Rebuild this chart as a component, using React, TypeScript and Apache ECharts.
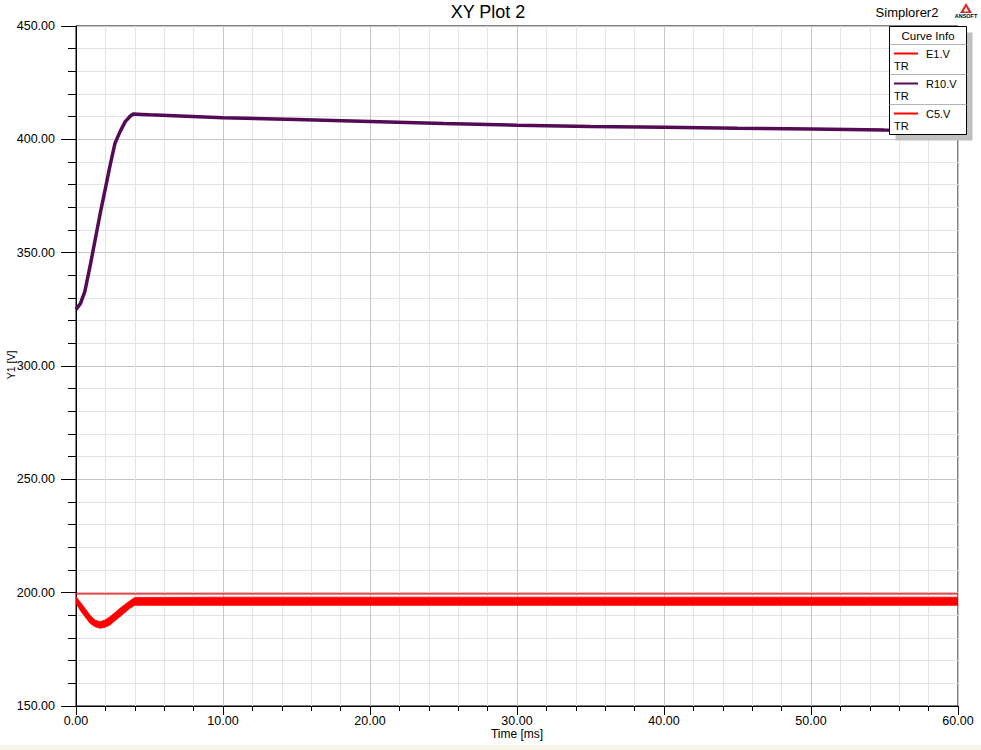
import React, { useEffect, useRef } from "react";
import * as echarts from "echarts";

// ---------- data ----------
const titleText = "XY Plot 2";
const projectText = "Simplorer2";
const xAxisName = "Time [ms]";
const yAxisName = "Y1 [V]";
const legendTitle = "Curve Info";
const seriesNames = ["E1.V", "R10.V", "C5.V"];
const seriesSub = ["TR", "TR", "TR"];

const e1Time = [0, 60];
const e1Values = [199.5, 199.5];

const r10Time = [0, 0.3, 0.6, 0.95, 1.3, 1.65, 2.0, 2.3, 2.65, 3.0, 3.35, 3.7, 3.9, 4.5, 5, 10, 15, 20, 25, 30, 35, 40, 45, 50, 55, 60];
const r10Values = [325.0, 327.5, 332.8, 343.8, 355.6, 367.4, 378.4, 388.0, 398.2, 403.4, 407.8, 410.3, 411.2, 411.0, 410.8, 409.5, 408.7, 407.9, 407.0, 406.2, 405.7, 405.3, 404.9, 404.6, 404.1, 403.8];

const c5Time = [0, 0.27, 0.61, 0.95, 1.29, 1.63, 1.97, 2.31, 2.65, 2.99, 3.33, 3.67, 4.0, 10, 20, 30, 40, 50, 60];
const c5Upper = [198.2, 196.0, 193.1, 190.1, 187.9, 187.2, 187.9, 189.4, 191.2, 193.1, 194.8, 196.4, 197.9, 198.0, 198.0, 198.0, 198.0, 198.0, 198.0];
const c5Lower = [195.3, 192.4, 189.4, 186.5, 185.0, 184.3, 184.7, 185.7, 187.6, 189.4, 191.2, 193.1, 194.4, 194.4, 194.4, 194.4, 194.4, 194.4, 194.4];

const colors = ["#ff0000", "#550a55", "#ff0000"];

const FONT = "Liberation Sans, Arial, sans-serif";

export default function App() {
  const ref = useRef<HTMLDivElement>(null);

  useEffect(() => {
    if (!ref.current) return;
    const chart = echarts.init(ref.current, undefined, { renderer: "svg" });

    const zip = (t: number[], v: number[]) => t.map((x, i) => [x, v[i]]);

    // legend graphic
    const lx = 889.5;
    const ly = 26.5;
    const lw = 77;
    const lh = 108;
    const legendChildren: any[] = [
      { type: "rect", shape: { x: lx + 6, y: ly + 6, width: lw, height: lh }, style: { fill: "#c0c0c0" }, z: 100 },
      { type: "rect", shape: { x: lx, y: ly, width: lw, height: lh }, style: { fill: "#ffffff", stroke: "#000000", lineWidth: 1 }, z: 101 },
      { type: "text", x: lx + lw / 2, y: 36, style: { text: legendTitle, fill: "#000", font: `11.5px ${FONT}`, align: "center", verticalAlign: "middle" }, z: 102 },
    ];
    const sepYs = [44.5, 74.5, 104.5];
    sepYs.forEach((sy) => {
      legendChildren.push({ type: "line", shape: { x1: lx, y1: sy, x2: lx + lw, y2: sy }, style: { stroke: "#b4b4b4", lineWidth: 1 }, z: 102 });
    });
    seriesNames.forEach((name, i) => {
      const rowY = 53.5 + i * 30;
      legendChildren.push({ type: "line", shape: { x1: 894, y1: rowY, x2: 918, y2: rowY }, style: { stroke: colors[i], lineWidth: 2 }, z: 102 });
      legendChildren.push({ type: "text", x: 926, y: rowY, style: { text: name, fill: "#000", font: `11px ${FONT}`, align: "left", verticalAlign: "middle" }, z: 102 });
      legendChildren.push({ type: "text", x: 894, y: rowY + 12.5, style: { text: seriesSub[i], fill: "#000", font: `11px ${FONT}`, align: "left", verticalAlign: "middle" }, z: 102 });
    });

    const option: any = {
      animation: false,
      backgroundColor: "#ffffff",
      textStyle: { fontFamily: FONT },
      grid: {
        left: 76,
        top: 26,
        right: 23,
        bottom: 44,
        show: true,
        borderColor: "#000000",
        borderWidth: 1,
        backgroundColor: "#ffffff",
      },
      xAxis: {
        type: "value",
        min: 0,
        max: 60,
        interval: 10,
        axisLine: { show: true, lineStyle: { color: "#000", width: 1 } },
        axisTick: { show: true, length: 9, lineStyle: { color: "#000" } },
        minorTick: { show: true, splitNumber: 5, length: 5, lineStyle: { color: "#000" } },
        splitLine: { show: true, lineStyle: { color: "#c6c6c6", width: 1 } },
        minorSplitLine: { show: true, lineStyle: { color: "#e4e4e4", width: 1 } },
        axisLabel: {
          color: "#000",
          fontSize: 12.5,
          fontFamily: FONT,
          margin: 8,
          formatter: (v: number) => v.toFixed(2),
        },
      },
      yAxis: {
        type: "value",
        min: 150,
        max: 450,
        interval: 50,
        axisLine: { show: true, lineStyle: { color: "#000", width: 1 } },
        axisTick: { show: true, length: 15, lineStyle: { color: "#000" } },
        minorTick: { show: true, splitNumber: 5, length: 8, lineStyle: { color: "#000" } },
        splitLine: { show: true, lineStyle: { color: "#c6c6c6", width: 1 } },
        minorSplitLine: { show: true, lineStyle: { color: "#e4e4e4", width: 1 } },
        axisLabel: {
          color: "#000",
          fontSize: 12.5,
          fontFamily: FONT,
          margin: 21,
          formatter: (v: number) => v.toFixed(2),
        },
      },
      series: [
        {
          name: seriesNames[0],
          type: "line",
          data: zip(e1Time, e1Values),
          symbol: "none",
          lineStyle: { color: colors[0], width: 1.2 },
          z: 4,
        },
        {
          name: seriesNames[1],
          type: "line",
          data: zip(r10Time, r10Values),
          symbol: "none",
          lineStyle: { color: colors[1], width: 3.5 },
          z: 3,
        },
        {
          name: seriesNames[2],
          type: "custom",
          data: [[c5Time[0], c5Upper[0]]],
          encode: { x: 0, y: 1 },
          clip: true,
          z: 2,
          renderItem: (_params: any, api: any) => {
            const pts: number[][] = [];
            for (let i = 0; i < c5Time.length; i++) pts.push(api.coord([c5Time[i], c5Upper[i]]));
            for (let i = c5Time.length - 1; i >= 0; i--) pts.push(api.coord([c5Time[i], c5Lower[i]]));
            return {
              type: "polygon",
              shape: { points: pts },
              style: { fill: colors[2], stroke: colors[2], lineWidth: 0.8 },
            };
          },
        },
      ],
      graphic: [
        { type: "rect", shape: { x: 0, y: 745, width: 981, height: 5 }, style: { fill: "#f7f5e8" }, z: 0 },
        { type: "text", x: 488, y: 12, style: { text: titleText, fill: "#000", font: `18px ${FONT}`, align: "center", verticalAlign: "middle" }, z: 50 },
        { type: "text", x: 907, y: 12, style: { text: projectText, fill: "#000", font: `13px ${FONT}`, align: "center", verticalAlign: "middle" }, z: 50 },
        { type: "polygon", shape: { points: [[966, 3], [972, 13], [960, 13]] }, style: { fill: "#d42a2a" }, z: 50 },
        { type: "polygon", shape: { points: [[966, 7], [968.5, 11.5], [963.5, 11.5]] }, style: { fill: "#ffffff" }, z: 51 },
        { type: "text", x: 966, y: 16, style: { text: "ANSOFT", fill: "#000", font: `bold 5.5px ${FONT}`, align: "center", verticalAlign: "middle" }, z: 50 },
        { type: "text", x: 517, y: 734, style: { text: xAxisName, fill: "#000", font: `12px ${FONT}`, align: "center", verticalAlign: "middle" }, z: 50 },
        { type: "text", x: 10.5, y: 365, rotation: Math.PI / 2, style: { text: yAxisName, fill: "#000", font: `10.5px ${FONT}`, align: "center", verticalAlign: "middle" }, z: 50 },
        { type: "group", children: legendChildren, z: 100 },
      ],
    };

    chart.setOption(option);
    return () => chart.dispose();
  }, []);

  return (
    <div
      ref={ref}
      style={{ position: "fixed", left: 0, top: 0, width: 981, height: 750, background: "#fff" }}
    />
  );
}
